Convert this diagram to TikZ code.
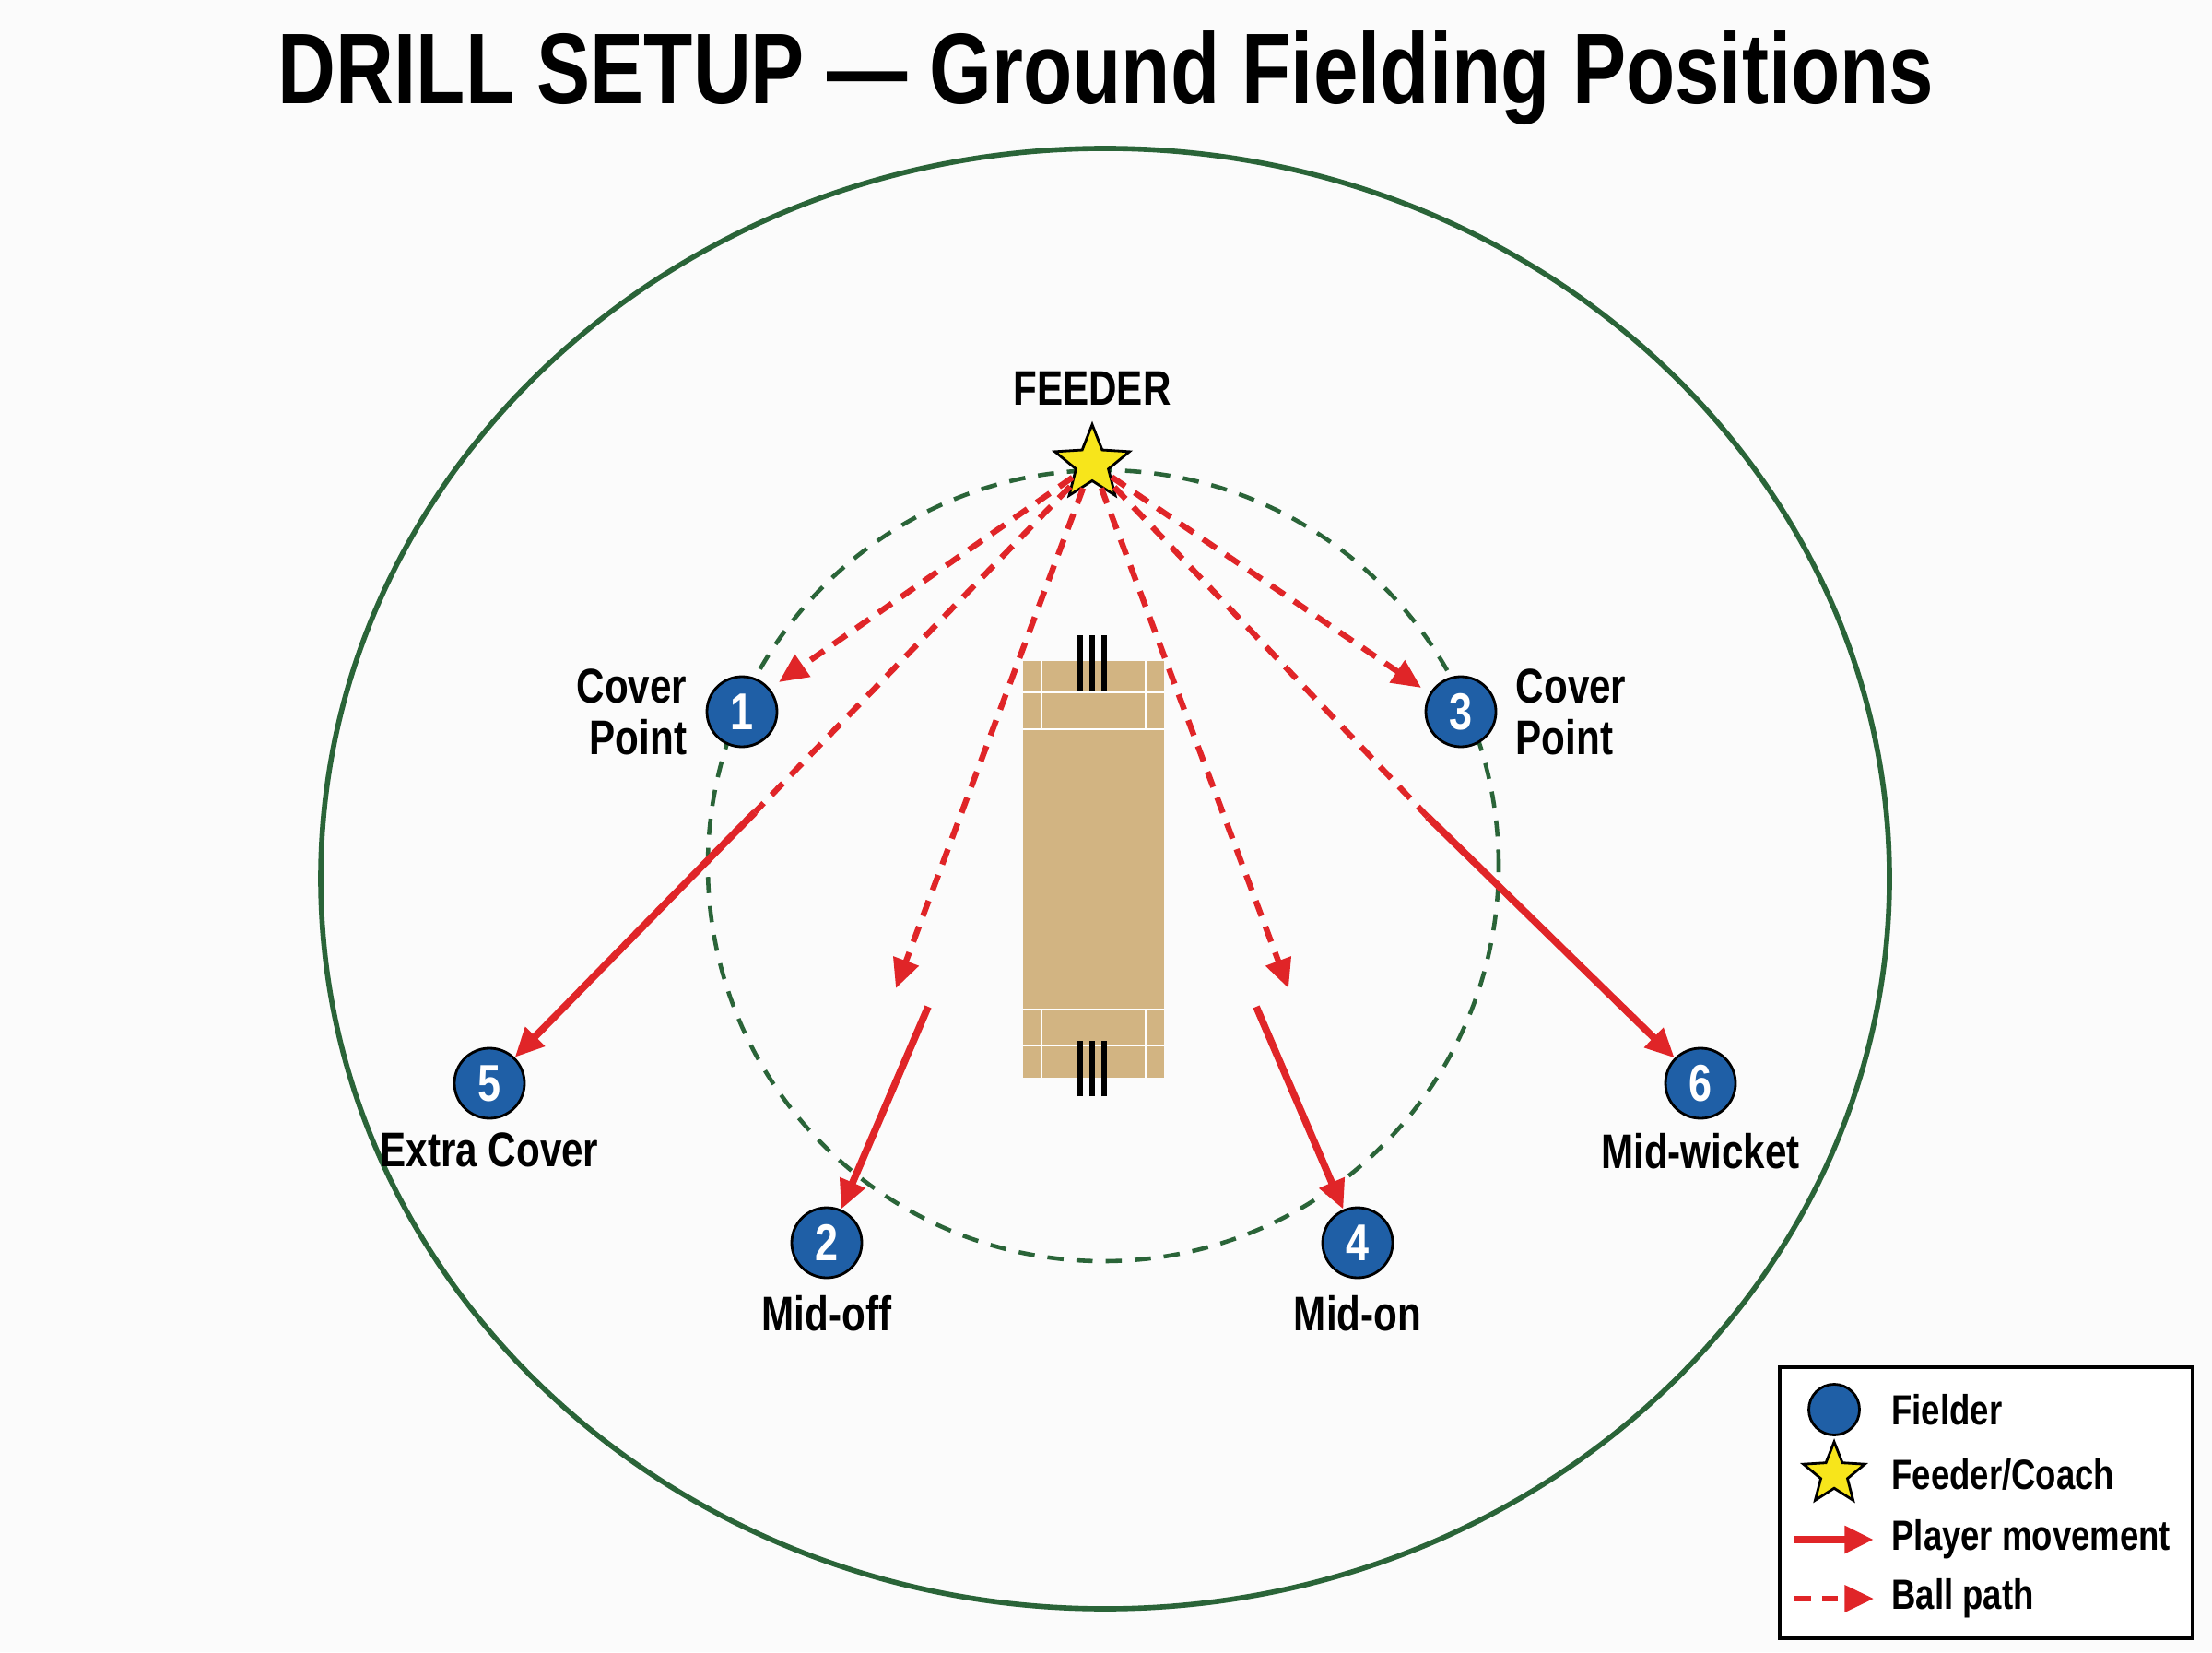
\documentclass[tikz,border=0pt]{standalone}
\usepackage{fontspec}
\setmainfont{Liberation Sans}[FakeStretch=0.8]
\usetikzlibrary{positioning,shapes.geometric,arrows.meta}
\definecolor{fieldgreen}{HTML}{2A6438}
\definecolor{pitchtan}{HTML}{D2B482}
\definecolor{fielderblue}{HTML}{1F5FA6}
\definecolor{pathred}{HTML}{E02528}
\definecolor{staryellow}{HTML}{F7E51B}
\begin{document}
\begin{tikzpicture}[
		fielder/.style={circle,draw=black,thick,fill=fielderblue,text=white,minimum size=0.76cm,inner sep=0pt,font=\bfseries\fontsize{16}{16}\selectfont},
		feeder/.style={star,star points=5,star point ratio=2.3,draw=black,thick,fill=staryellow,minimum size=0.85cm,inner sep=0pt},
		lbl/.style={font=\bfseries\fontsize{15}{16}\selectfont,align=center},
		move/.style={pathred,line width=2.2pt,-{Triangle[length=9pt,width=8pt]}},
		ball/.style={pathred,line width=1.8pt,dash pattern=on 5pt off 3.5pt,-{Triangle[length=9pt,width=8pt]}},
		crease/.style={white,line width=0.5pt}
		]
		\useasboundingbox (0,0) rectangle (24,17.92);
		\fill[white!97!gray] (0,0) rectangle (24,17.92);
		% title
		\node[font=\bfseries\fontsize{31}{32}\selectfont] (title) at (12.0,17.07) {DRILL SETUP — Ground Fielding Positions};
		% boundary and inner ring
		\draw[fieldgreen,line width=1.6pt] (11.99,8.39) ellipse (8.51 and 7.92);
		\draw[fieldgreen,line width=1.3pt,dash pattern=on 5pt off 4pt] (11.97,8.53) circle (4.29);
		% pitch
		\fill[pitchtan] (11.10,6.23) rectangle (12.63,10.75);
		\draw[crease] (11.10,10.41) -- (12.63,10.41) (11.10,10.01) -- (12.63,10.01)
			(11.30,10.75) -- (11.30,10.01) (12.43,10.75) -- (12.43,10.01)
			(11.10,6.97) -- (12.63,6.97) (11.10,6.58) -- (12.63,6.58)
			(11.30,6.23) -- (11.30,6.97) (12.43,6.23) -- (12.43,6.97);
		\foreach \dx in {-0.13,0,0.13}{
			\draw[black,line width=1.6pt] (11.85+\dx,10.43) -- (11.85+\dx,11.03);
			\draw[black,line width=1.6pt] (11.85+\dx,6.03) -- (11.85+\dx,6.63);
		}
		% feeder
		\node[feeder] (feed) at (11.85,12.89) {};
		\node[lbl,above=0.05cm of feed] (feedlbl) {FEEDER};
		% fielders
		\node[fielder] (f1) at (8.05,10.20) {1};
		\node[fielder] (f3) at (15.85,10.20) {3};
		\node[fielder] (f5) at (5.31,6.17) {5};
		\node[fielder] (f6) at (18.45,6.17) {6};
		\node[fielder] (f2) at (8.97,4.44) {2};
		\node[fielder] (f4) at (14.73,4.44) {4};
		\node[lbl,left=0.08cm of f1,align=right] {Cover\\Point};
		\node[lbl,right=0.08cm of f3,align=left] {Cover\\Point};
		\node[lbl,below=0.02cm of f5] {Extra Cover};
		\node[lbl,below=0.02cm of f6] {Mid-wicket};
		\node[lbl,below=0.05cm of f2] {Mid-off};
		\node[lbl,below=0.05cm of f4] {Mid-on};
		% ball targets and turn points
		\coordinate (b1) at (8.45,10.52);
		\coordinate (b3) at (15.42,10.46);
		\coordinate (b2) at (9.72,7.20);
		\coordinate (b4) at (13.98,7.20);
		\coordinate (t5) at (8.19,9.11);
		\coordinate (t6) at (15.49,9.06);
		\coordinate (m2) at (10.07,7.00);
		\coordinate (m4) at (13.63,7.00);
		% ball paths
		\draw[ball] (feed) -- (b1);
		\draw[ball] (feed) -- (b3);
		\draw[ball] (feed) -- (b2);
		\draw[ball] (feed) -- (b4);
		\draw[ball,-] (feed) -- (t5);
		\draw[ball,-] (feed) -- (t6);
		% player movement
		\draw[move] (t5) -- (f5);
		\draw[move] (t6) -- (f6);
		\draw[move] (m2) -- (f2);
		\draw[move] (m4) -- (f4);
		% legend
		\draw[black,line width=1pt,fill=white] (19.31,0.15) rectangle (23.79,3.09);
		\node[fielder,minimum size=0.55cm] (lgf) at (19.90,2.63) {};
		\node[feeder,minimum size=0.7cm] (lgs) at (19.90,1.93) {};
		\coordinate (lgm1) at (19.47,1.22);
		\coordinate (lgm2) at (20.33,1.22);
		\coordinate (lgb1) at (19.47,0.58);
		\coordinate (lgb2) at (20.33,0.58);
		\draw[move] (lgm1) -- (lgm2);
		\draw[ball] (lgb1) -- (lgb2);
		\foreach \y/\t in {2.63/Fielder,1.93/Feeder\slash Coach,1.22/Player movement,0.58/Ball path}
			\node[lbl,anchor=west,font=\bfseries\fontsize{13}{14}\selectfont] at (20.40,\y) {\t};
	\end{tikzpicture}
\end{document}
